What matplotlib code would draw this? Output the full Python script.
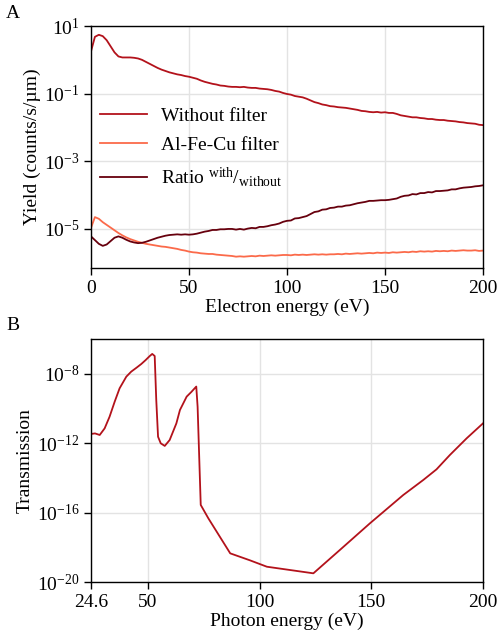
import numpy as np
import matplotlib
matplotlib.use('Agg')
import matplotlib.pyplot as plt
from matplotlib.ticker import NullLocator

plt.rcParams['font.family'] = ['Liberation Serif', 'DejaVu Serif']
plt.rcParams['mathtext.fontset'] = 'custom'
plt.rcParams['mathtext.rm'] = 'Liberation Serif'
plt.rcParams['mathtext.it'] = 'Liberation Serif:italic'
plt.rcParams['font.size'] = 14

# --- panel A: electron yield, log10 values (2 eV steps)
electron_energy = np.arange(0, 201, 2)
log_without = [
    0.25, 0.68, 0.74, 0.70, 0.58, 0.40, 0.22, 0.10, 0.07, 0.07,
    0.07, 0.06, 0.04, 0.00, -0.06, -0.12, -0.18, -0.24, -0.29, -0.33,
    -0.37, -0.40, -0.43, -0.45, -0.48, -0.50, -0.53, -0.56, -0.61, -0.65,
    -0.68, -0.71, -0.73, -0.76, -0.77, -0.79, -0.80, -0.80, -0.81, -0.80,
    -0.82, -0.83, -0.83, -0.85, -0.86, -0.87, -0.89, -0.92, -0.94, -0.98,
    -1.01, -1.03, -1.07, -1.09, -1.11, -1.15, -1.20, -1.25, -1.28, -1.32,
    -1.34, -1.37, -1.38, -1.40, -1.41, -1.42, -1.44, -1.46, -1.48, -1.51,
    -1.52, -1.54, -1.55, -1.54, -1.56, -1.55, -1.57, -1.57, -1.60, -1.64,
    -1.66, -1.68, -1.70, -1.70, -1.72, -1.73, -1.75, -1.75, -1.77, -1.78,
    -1.78, -1.80, -1.81, -1.82, -1.84, -1.85, -1.87, -1.88, -1.89, -1.92,
    -1.93,
]
log_filter = [
    -4.97, -4.65, -4.70, -4.80, -4.88, -4.96, -5.04, -5.12, -5.19, -5.25,
    -5.30, -5.34, -5.38, -5.41, -5.44, -5.46, -5.48, -5.50, -5.52, -5.53,
    -5.55, -5.57, -5.59, -5.62, -5.64, -5.67, -5.69, -5.70, -5.72, -5.73,
    -5.74, -5.74, -5.76, -5.77, -5.78, -5.79, -5.80, -5.82, -5.81, -5.82,
    -5.81, -5.80, -5.81, -5.79, -5.80, -5.79, -5.78, -5.79, -5.78, -5.77,
    -5.77, -5.78, -5.76, -5.77, -5.76, -5.77, -5.76, -5.75, -5.76, -5.75,
    -5.76, -5.75, -5.75, -5.74, -5.75, -5.73, -5.74, -5.73, -5.72, -5.73,
    -5.72, -5.71, -5.72, -5.70, -5.71, -5.70, -5.71, -5.69, -5.70, -5.69,
    -5.68, -5.69, -5.67, -5.68, -5.66, -5.67, -5.66, -5.67, -5.65, -5.66,
    -5.65, -5.66, -5.64, -5.65, -5.64, -5.63, -5.64, -5.64, -5.63, -5.65,
    -5.64,
]

# --- panel B: filter transmission
photon_energy = [24.6, 26.4, 28.5, 30.7, 32.9, 35.2, 37.4, 40.4, 42.6, 45.0,
                 47.1, 49.0, 50.9, 52.0, 53.1, 53.8, 54.6, 55.8, 57.6, 59.8,
                 62.8, 64.4, 67.4, 69.5, 71.7, 72.3, 73.7, 77.1, 86.9, 95.7,
                 103.3, 124.1, 136.0, 149.4, 164.3, 173.3, 179.2, 185.2,
                 192.7, 200.0]
log_transmission = [-11.47, -11.44, -11.53, -11.15, -10.48, -9.61, -8.84, -8.17,
                    -7.88, -7.65, -7.44, -7.22, -6.98, -6.86, -6.98, -9.51,
                    -11.63, -12.01, -12.16, -11.82, -10.86, -10.09, -9.32,
                    -9.05, -8.74, -9.90, -15.56, -16.33, -18.35, -18.75,
                    -19.12, -19.50, -18.15, -16.62, -14.99, -14.12, -13.51,
                    -12.68, -11.72, -10.86]

c_without = '#b3121b'
c_filter = '#fb6a4a'
c_ratio = '#67000d'

without = 10 ** np.array(log_without)
filtered = 10 ** np.array(log_filter)
ratio = filtered / without
transmission = 10 ** np.array(log_transmission)

fig = plt.figure(figsize=(4.99, 6.32), dpi=100)
W, H = 499, 632
axA = fig.add_axes([91 / W, 1 - 268 / H, 392 / W, 242 / H])
axB = fig.add_axes([91 / W, 1 - 582 / H, 392 / W, 243 / H])

for ax in (axA, axB):
    ax.set_yscale('log')
    ax.grid(True, color='#e3e3e3', lw=1.0)
    ax.set_axisbelow(True)
    ax.tick_params(direction='out', length=5, width=1, labelsize=14)
    ax.yaxis.set_minor_locator(NullLocator())
    for s in ax.spines.values():
        s.set_linewidth(1.0)

# panel A
axA.plot(electron_energy, without, color=c_without, lw=1.3, label='Without filter')
axA.plot(electron_energy, filtered, color=c_filter, lw=1.3, label='Al-Fe-Cu filter')
axA.plot(electron_energy, ratio, color=c_ratio, lw=1.3,
         label=r'Ratio $^{\mathrm{with}}/_{\mathrm{without}}$')
axA.set_xlim(0, 200)
axA.set_ylim(7e-7, 10)
axA.set_xticks([0, 50, 100, 150, 200])
axA.set_yticks([1e1, 1e-1, 1e-3, 1e-5])
axA.set_xlabel('Electron energy (eV)', fontsize=14, labelpad=1)
axA.set_ylabel('Yield (counts/s/µm)', fontsize=14, labelpad=2)
axA.legend(loc='center left', bbox_to_anchor=(9 / 392, 0.495), frameon=False,
           borderaxespad=0, borderpad=0, handlelength=2.4, handletextpad=0.75,
           labelspacing=0.6, fontsize=14)

# panel B
axB.plot(photon_energy, transmission, color=c_without, lw=1.3)
axB.set_xlim(24.6, 200)
axB.set_ylim(1e-20, 1e-6)
axB.set_xticks([24.6, 50, 100, 150, 200])
axB.set_xticklabels(['24.6', '50', '100', '150', '200'])
axB.set_yticks([1e-8, 1e-12, 1e-16, 1e-20])
axB.set_xlabel('Photon energy (eV)', fontsize=14, labelpad=1)
axB.set_ylabel('Transmission', fontsize=14, labelpad=2)

fig.text(6 / W, 1 - 14 / H, 'A', fontsize=14, va='center', ha='left')
fig.text(6 / W, 1 - 325 / H, 'B', fontsize=14, va='center', ha='left')

fig.savefig('out.png', dpi=100)
